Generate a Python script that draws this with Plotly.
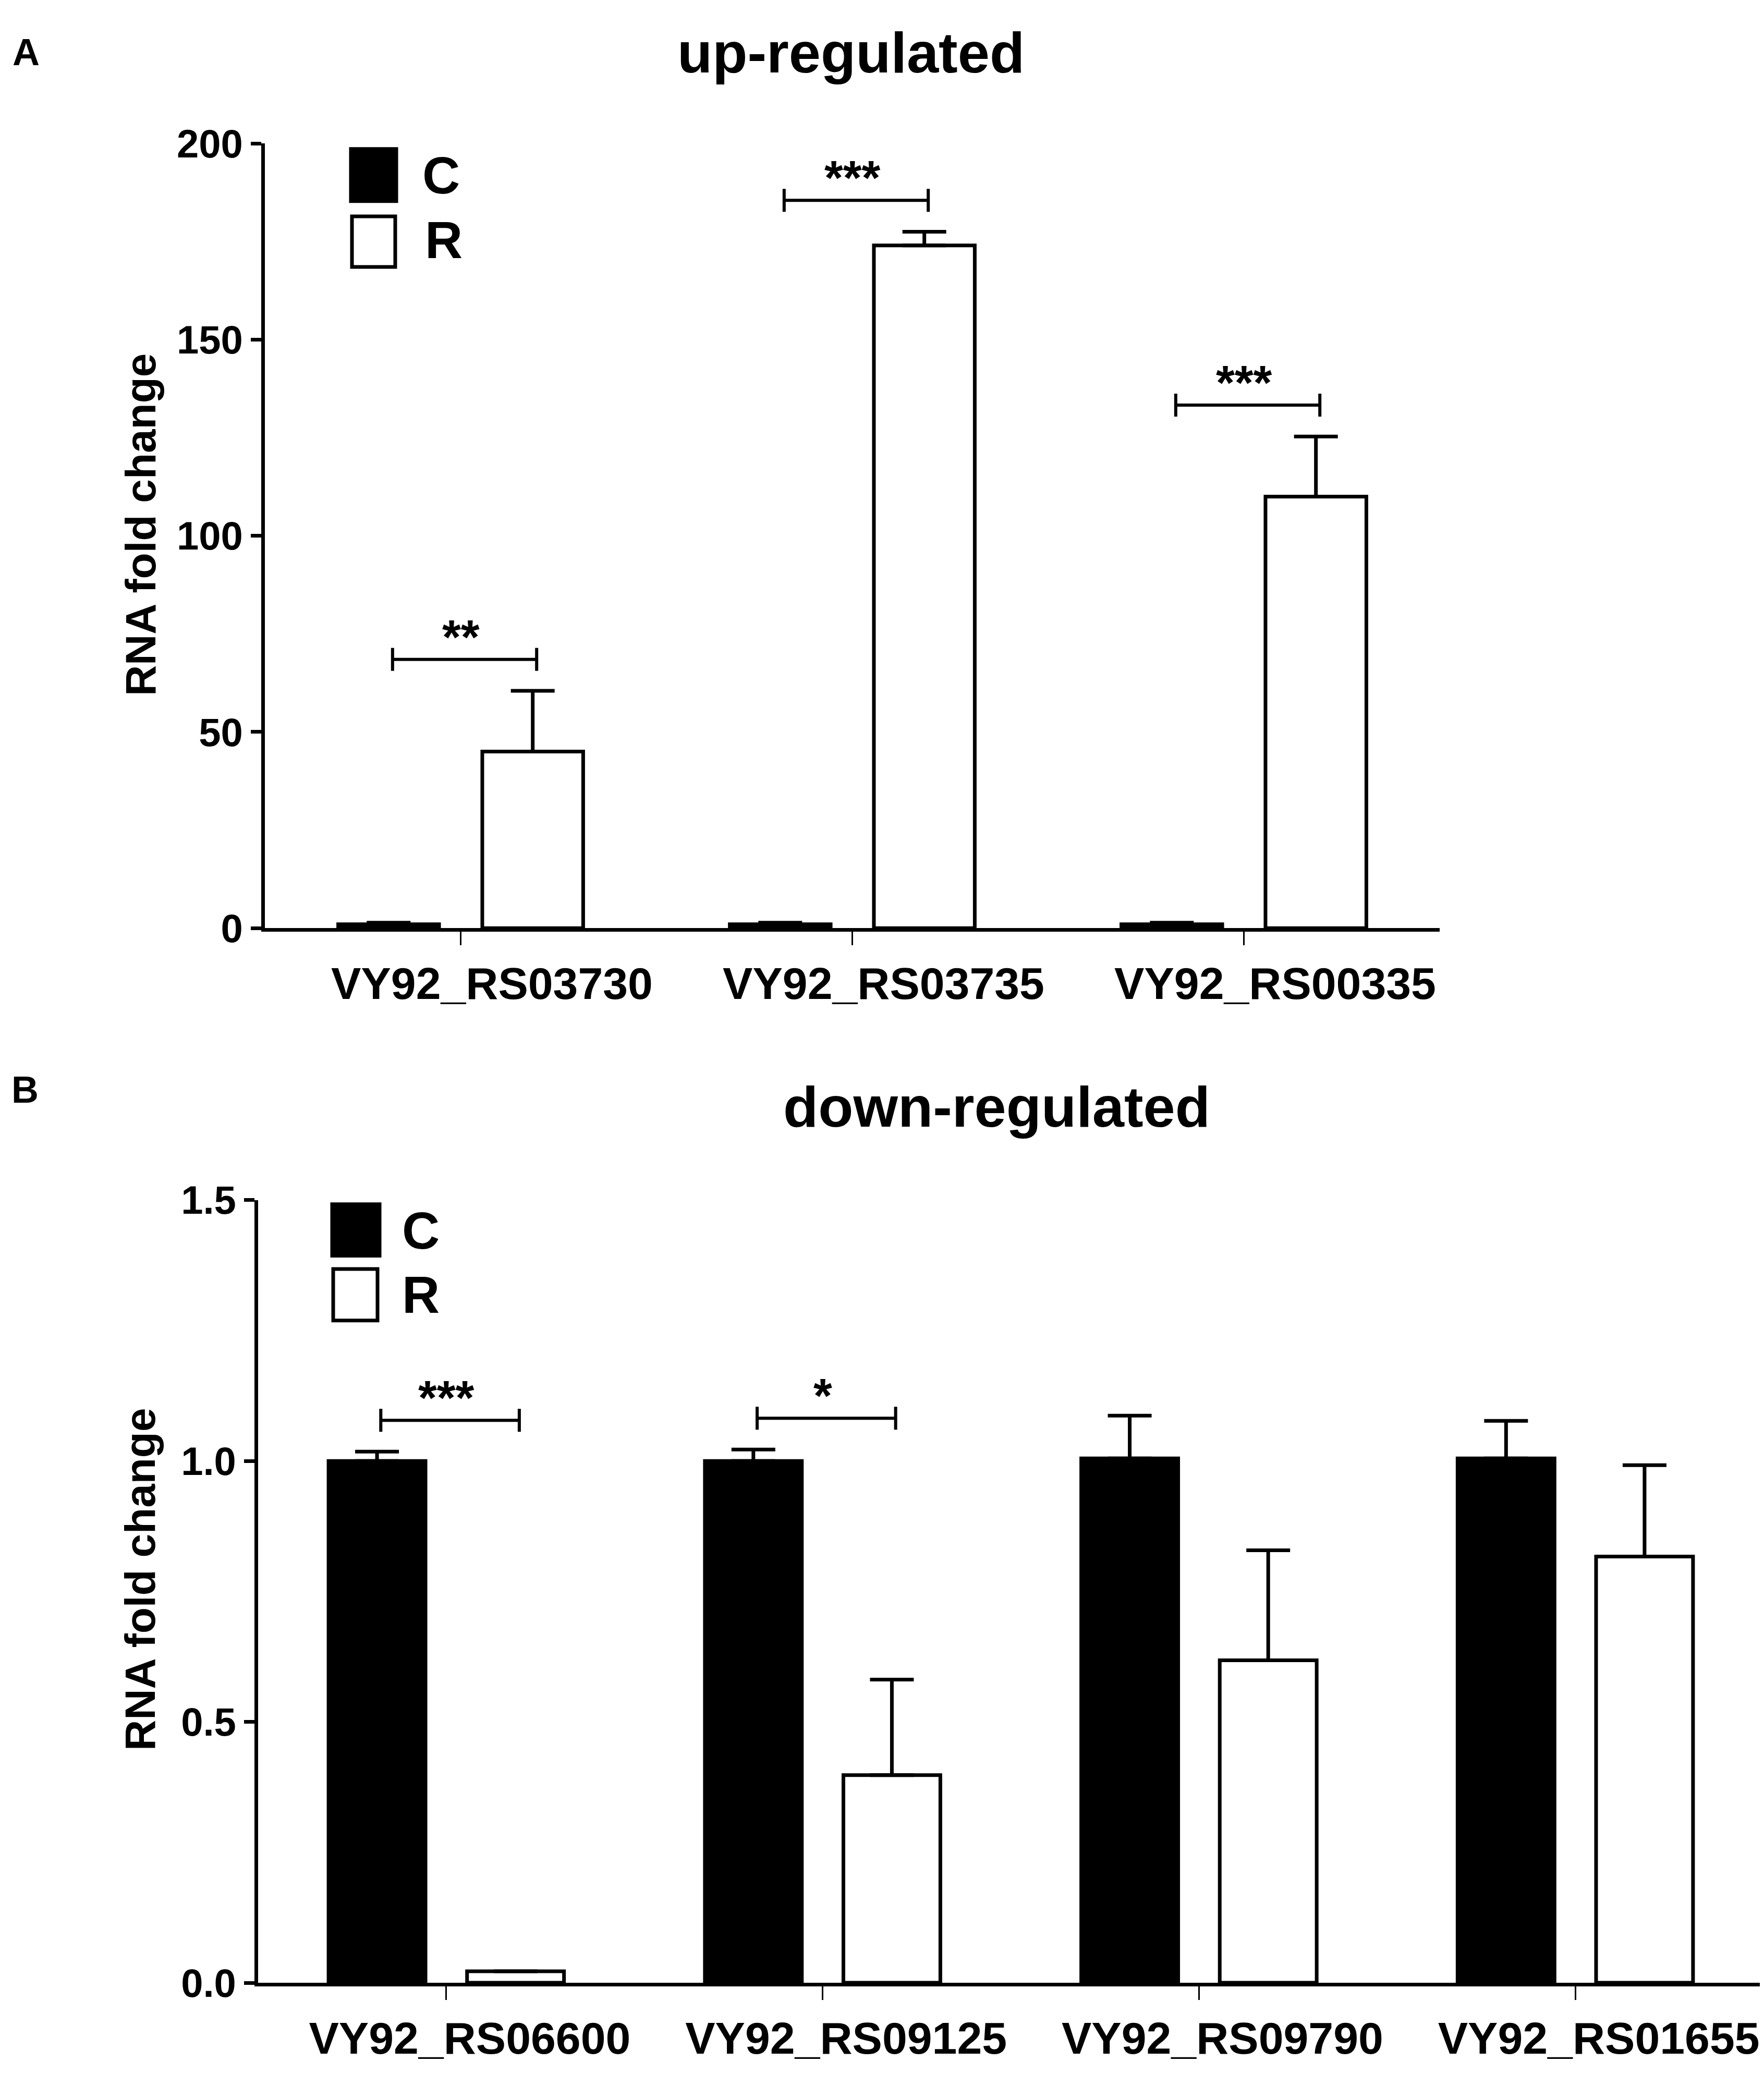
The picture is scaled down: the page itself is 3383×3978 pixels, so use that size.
import plotly.graph_objects as go

# ---------------- data ----------------
genes_up = ["VY92_RS03730", "VY92_RS03735", "VY92_RS00335"]
up_C = [1.0, 1.0, 1.0]
up_C_err = [0.4, 0.4, 0.4]
up_R = [45.0, 174.0, 110.0]
up_R_err = [15.5, 3.5, 15.3]
up_sig = ["**", "***", "***"]

genes_down = ["VY92_RS06600", "VY92_RS09125", "VY92_RS09790", "VY92_RS01655"]
down_C = [1.0, 1.0, 1.005, 1.005]
down_C_err = [0.018, 0.022, 0.082, 0.072]
down_R = [0.022, 0.398, 0.618, 0.817]
down_R_err = [0.0, 0.183, 0.211, 0.175]
down_sig = ["***", "*", "", ""]

up_ticks = [0, 50, 100, 150, 200]
down_ticks = [0.0, 0.5, 1.0, 1.5]

# ---------------- styling ----------------
W, H = 3383, 3978
FONT = "Liberation Sans, Arial, sans-serif"
LW = 7
BARGAP = 0.264
BARGROUPGAP = 0.30

def px(x):
    return x / W

def py(y):
    return 1 - y / H

fig = go.Figure()

def add_panel(genes, c, ce, r, re_, xa, ya):
    xs = list(range(len(genes)))
    fig.add_trace(go.Bar(
        x=xs, y=c, name="C", xaxis=xa, yaxis=ya,
        marker=dict(color="black", line=dict(color="black", width=LW)),
        error_y=dict(type="data", array=ce, arrayminus=[0] * len(ce), symmetric=False,
                     color="black", thickness=LW, width=42),
        showlegend=False,
    ))
    fig.add_trace(go.Bar(
        x=xs, y=r, name="R", xaxis=xa, yaxis=ya,
        marker=dict(color="white", line=dict(color="black", width=LW)),
        error_y=dict(type="data", array=re_, arrayminus=[0] * len(re_), symmetric=False,
                     color="black", thickness=LW, width=42),
        showlegend=False,
    ))

add_panel(genes_up, up_C, up_C_err, up_R, up_R_err, "x", "y")
add_panel(genes_down, down_C, down_C_err, down_R, down_R_err, "x2", "y2")

slot = (1 - BARGAP) / 2
off = slot / 2

def add_brackets(sig, c, ce, r, re_, xref, yref, ymax):
    for i, s in enumerate(sig):
        if not s:
            continue
        top = max(c[i] + ce[i], r[i] + re_[i]) + 0.04 * ymax
        x0, x1 = i - off + 0.01, i + off + 0.01
        fig.add_shape(type="line", xref=xref, yref=yref, x0=x0, x1=x1, y0=top, y1=top,
                      line=dict(color="black", width=6))
        for xx in (x0, x1):
            fig.add_shape(type="line", xref=xref, yref=yref, x0=xx, x1=xx,
                          ysizemode="pixel", yanchor=top, y0=-22, y1=22,
                          line=dict(color="black", width=6))
        fig.add_annotation(x=i, y=top, xref=xref, yref=yref, text="<b>%s</b>" % s,
                           showarrow=False, yanchor="bottom", yshift=-10,
                           font=dict(family=FONT, size=92, color="black"))

add_brackets(up_sig, up_C, up_C_err, up_R, up_R_err, "x", "y", 200)
add_brackets(down_sig, down_C, down_C_err, down_R, down_R_err, "x2", "y2", 1.5)

# axes
common_y = dict(showline=True, linecolor="black", linewidth=LW, ticks="outside",
                ticklen=20, tickwidth=LW, tickcolor="black", showgrid=False, zeroline=False,
                tickfont=dict(family=FONT, size=76, color="black", weight="bold"))
common_x = dict(showline=True, linecolor="black", linewidth=LW, ticks="outside",
                ticklen=26, tickwidth=3, tickcolor="black", showgrid=False, zeroline=False,
                tickfont=dict(family=FONT, size=86, color="black", weight="bold"))

fig.update_layout(
    width=W, height=H, autosize=False,
    margin=dict(l=0, r=0, t=0, b=0),
    paper_bgcolor="white", plot_bgcolor="white",
    barmode="group", bargap=BARGAP, bargroupgap=BARGROUPGAP,
    xaxis=dict(domain=[px(500), px(2753)], anchor="y", range=[-0.5, len(genes_up) - 0.5],
               tickvals=list(range(len(genes_up))), ticktext=genes_up, ticklabelshift=60,
               **common_x),
    yaxis=dict(domain=[py(1768), py(230)], anchor="x", range=[0, 200], tickvals=up_ticks,
               **common_y),
    xaxis2=dict(domain=[px(487), px(3374)], anchor="y2", range=[-0.5, len(genes_down) - 0.5],
                tickvals=list(range(len(genes_down))), ticktext=genes_down, ticklabelshift=45,
                **common_x),
    yaxis2=dict(domain=[py(3835), py(2301)], anchor="x2", range=[0, 1.5], tickvals=down_ticks,
                tickformat=".1f", **common_y),
)

# titles, panel letters, axis titles
texts = [
    ("A", 42, 51, 72),
    ("B", 40, 2085, 72),
    ("up-regulated", 1624, 52, 110),
    ("down-regulated", 1903, 2118, 110),
]
for t, x, y, s in texts:
    fig.add_annotation(x=px(x), y=py(y), xref="paper", yref="paper", text="<b>%s</b>" % t,
                       showarrow=False, xanchor="center", yanchor="middle",
                       font=dict(family=FONT, size=s, color="black"))
for yc in (977, 3044):
    fig.add_annotation(x=px(261), y=py(yc), xref="paper", yref="paper",
                       text="<b>RNA fold change</b>", textangle=-90, showarrow=False,
                       xanchor="center", yanchor="middle",
                       font=dict(family=FONT, size=82, color="black"))

# legends (manual)
legends = [
    # (rect x0, x1, y0, y1, fill, label, label_x, label_yc)
    (665, 752, 241, 343, "black", "C", 800, 292),
    (667, 750, 373, 472, "white", "R", 805, 419),
    (629, 720, 2309, 2410, "black", "C", 761, 2360),
    (631, 716, 2436, 2537, "white", "R", 761, 2486),
]
for x0, x1, y0, y1, fill, lab, lx, ly in legends:
    fig.add_shape(type="rect", xref="paper", yref="paper", x0=px(x0), x1=px(x1),
                  y0=py(y1), y1=py(y0), fillcolor=fill, line=dict(color="black", width=LW))
    fig.add_annotation(x=px(lx), y=py(ly), xref="paper", yref="paper", text="<b>%s</b>" % lab,
                       showarrow=False, xanchor="left", yanchor="middle",
                       font=dict(family=FONT, size=100, color="black"))

fig.write_html("out.html")
